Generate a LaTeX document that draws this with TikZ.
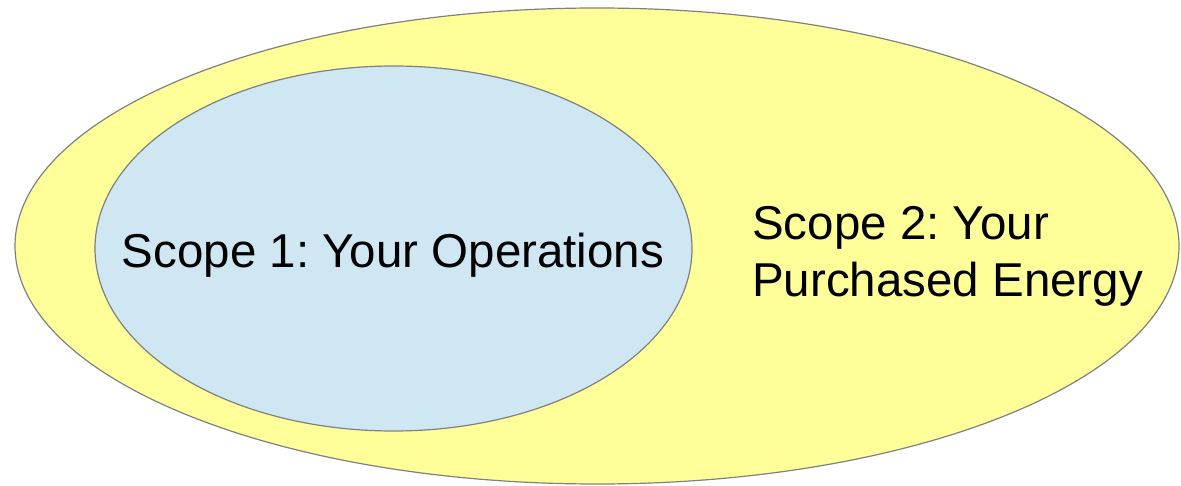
\documentclass[tikz,border=0pt]{standalone}
\usepackage{fontspec}
\setmainfont{Liberation Sans}
\usepackage{tikz}
\definecolor{outeryellow}{RGB}{255,255,153}
\definecolor{innerblue}{RGB}{207,230,243}
\frenchspacing

\begin{document}
\begin{tikzpicture}[x=1pt,y=-1pt]
\useasboundingbox (0,0) rectangle (1181,486);
\draw [gray, line width=1.2pt, fill=outeryellow](597,246) ellipse (582 and 238);
\draw [gray, line width=1.2pt, fill=innerblue](393.5,248.5) ellipse (298.5 and 182.5);
\node [anchor=base, inner sep=0pt, font=\fontsize{47.5}{57}\selectfont] (scopeone) at (393,268) {Scope 1: Your Operations};
\node [anchor=base west, align=left, inner sep=0pt, font=\fontsize{47.5}{57}\selectfont] (scopetwo) at (752,297) {Scope 2: Your\\Purchased Energy};
\end{tikzpicture}
\end{document}
